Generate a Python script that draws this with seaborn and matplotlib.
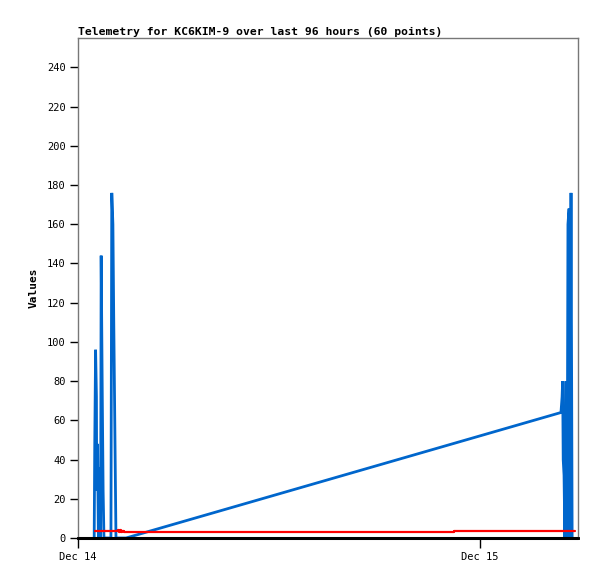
import matplotlib
matplotlib.use("Agg")
import matplotlib.pyplot as plt
import matplotlib.dates as mdates
import pandas as pd
import seaborn as sns

# ---- data ----
blue_times = [
    "2023-12-14 00:58", "2023-12-14 01:00", "2023-12-14 01:03", "2023-12-14 01:06",
    "2023-12-14 01:07", "2023-12-14 01:10", "2023-12-14 01:13", "2023-12-14 01:17",
    "2023-12-14 01:21", "2023-12-14 01:23", "2023-12-14 01:27", "2023-12-14 01:30",
    "2023-12-14 01:33", "2023-12-14 01:58", "2023-12-14 02:01", "2023-12-14 02:05",
    "2023-12-14 02:08", "2023-12-14 02:12", "2023-12-14 02:16", "2023-12-14 02:52",
    "2023-12-15 04:50", "2023-12-15 04:54", "2023-12-15 04:56", "2023-12-15 04:58",
    "2023-12-15 05:01", "2023-12-15 05:04", "2023-12-15 05:08", "2023-12-15 05:12",
    "2023-12-15 05:15", "2023-12-15 05:19", "2023-12-15 05:22", "2023-12-15 05:26",
    "2023-12-15 05:30",
]
blue_values = [
    0, 48, 96, 72,
    24, 48, 0, 36,
    0, 144, 72, 24,
    0, 0, 176, 160,
    112, 56, 0, 0,
    64, 72, 80, 40,
    32, 0, 80, 0,
    160, 168, 0, 176,
    0,
]

red_times = [
    "2023-12-14 01:01", "2023-12-14 02:20", "2023-12-14 02:23", "2023-12-14 02:27",
    "2023-12-14 02:30", "2023-12-14 02:34", "2023-12-14 02:38", "2023-12-14 02:45",
    "2023-12-14 09:22", "2023-12-14 09:26", "2023-12-14 22:23", "2023-12-14 22:27",
    "2023-12-15 05:40",
]
red_values = [3.7, 3.7, 4.2, 3.3, 3.9, 3.2, 3.6, 2.9, 2.9, 3.3, 3.3, 3.8, 3.8]

black_times = ["2023-12-14 00:00", "2023-12-15 05:51"]
black_values = [0, 0]

x_start = "2023-12-14 00:00"
x_end = "2023-12-15 05:51"
y_ticks = list(range(0, 241, 20))
title = "Telemetry for KC6KIM-9 over last 96 hours (60 points)"
y_label = "Values"

# ---- plot ----
sns.set_theme(style="white")
plt.rcParams["font.family"] = ["DejaVu Sans Mono", "DejaVu Sans"]

fig = plt.figure(figsize=(5.97, 5.79), dpi=100)
ax = fig.add_axes([78 / 597, 41 / 579, 500 / 597, 500 / 579])

bdf = pd.DataFrame({"t": pd.to_datetime(blue_times), "v": blue_values})
rdf = pd.DataFrame({"t": pd.to_datetime(red_times), "v": red_values})
kdf = pd.DataFrame({"t": pd.to_datetime(black_times), "v": black_values})

sns.lineplot(data=bdf, x="t", y="v", color="#0066CC", linewidth=2.0,
             estimator=None, sort=False, ax=ax, solid_joinstyle="miter")
sns.lineplot(data=rdf, x="t", y="v", color="#FF0000", linewidth=1.6,
             drawstyle="steps-post", estimator=None, sort=False, ax=ax)
sns.lineplot(data=kdf, x="t", y="v", color="black", linewidth=2.2,
             estimator=None, sort=False, ax=ax, clip_on=False)

ax.set_xlim(pd.Timestamp(x_start), pd.Timestamp(x_end))
ax.set_ylim(0, 255)
ax.set_yticks(y_ticks)
ax.xaxis.set_major_locator(mdates.DayLocator())
ax.xaxis.set_major_formatter(mdates.DateFormatter("%b %d"))

for s in ["left", "top", "right"]:
    ax.spines[s].set_color("#777777")
    ax.spines[s].set_linewidth(1.0)
ax.spines["bottom"].set_color("black")
ax.spines["bottom"].set_linewidth(2.0)

ax.tick_params(axis="y", which="major", direction="out", length=6, width=1,
               color="black", labelsize=7.5, pad=3, left=True)
ax.tick_params(axis="x", which="major", direction="out", length=7, width=1,
               color="black", labelsize=7.5, pad=3, bottom=True)
for lab in ax.get_xticklabels() + ax.get_yticklabels():
    lab.set_color("black")

ax.set_xlabel("")
ax.set_ylabel(y_label, fontsize=8, fontweight="bold", color="black", labelpad=6)
ax.set_title(title, loc="left", fontsize=8.2, fontweight="bold", color="black", pad=2)
ax.grid(False)

fig.savefig("out.png", dpi=100)
